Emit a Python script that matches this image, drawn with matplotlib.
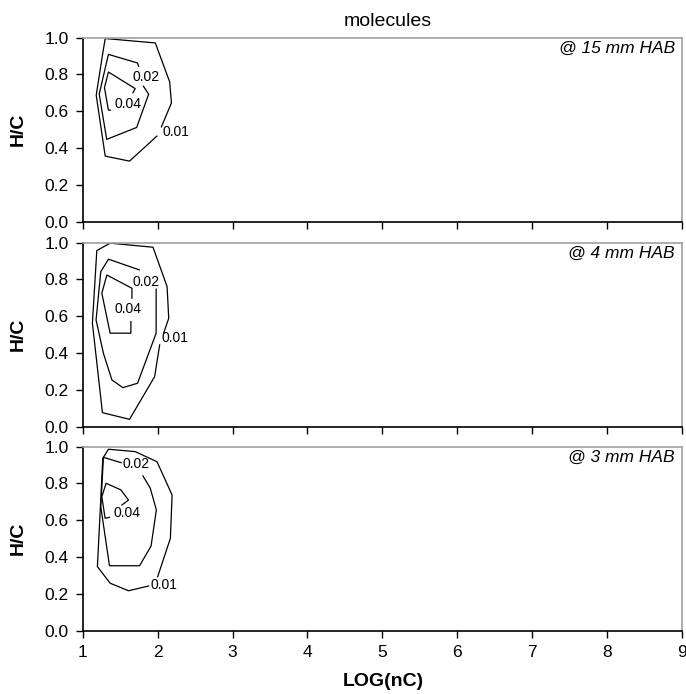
import matplotlib.pyplot as plt
import numpy as np

plt.rcParams["font.family"] = ["Liberation Sans", "DejaVu Sans"]

heights = ["@ 15 mm HAB", "@ 4 mm HAB", "@ 3 mm HAB"]
levels = ["0.01", "0.02", "0.04"]

# contour lines (LOG(nC), H/C), open where the level label sits
hab15_c01 = [(1.99, 0.465), (1.625, 0.329), (1.30, 0.356), (1.18, 0.687), (1.27, 0.922),
             (1.30, 0.995), (1.969, 0.971), (2.161, 0.759), (2.184, 0.645), (2.05, 0.515)]
hab15_c02 = [(1.745, 0.844), (1.732, 0.862), (1.343, 0.909), (1.22, 0.693), (1.32, 0.447),
             (1.72, 0.512), (1.88, 0.693), (1.81, 0.736)]
hab15_c04 = [(1.37, 0.606), (1.343, 0.606), (1.29, 0.728), (1.343, 0.813), (1.70, 0.723),
             (1.67, 0.70)]

hab4_c01 = [(2.027, 0.444), (1.96, 0.272), (1.625, 0.040), (1.263, 0.076), (1.129, 0.562),
            (1.188, 0.957), (1.366, 0.997), (1.938, 0.975), (2.126, 0.761), (2.148, 0.589),
            (2.08, 0.508)]
hab4_c02 = [(1.755, 0.852), (1.343, 0.910), (1.241, 0.842), (1.178, 0.580), (1.276, 0.399),
            (1.389, 0.254), (1.536, 0.212), (1.732, 0.236), (1.98, 0.508), (1.98, 0.747)]
hab4_c04 = [(1.657, 0.698), (1.657, 0.752), (1.322, 0.824), (1.255, 0.725), (1.366, 0.508),
            (1.643, 0.508), (1.643, 0.571)]

hab3_c01 = [(2.0, 0.293), (2.170, 0.502), (2.193, 0.737), (1.992, 0.918), (1.701, 0.973),
            (1.343, 0.986), (1.268, 0.937), (1.196, 0.348), (1.366, 0.258), (1.611, 0.217),
            (1.879, 0.243)]
hab3_c02 = [(1.804, 0.841), (1.902, 0.774), (1.983, 0.656), (1.912, 0.460), (1.759, 0.353),
            (1.357, 0.353), (1.241, 0.674), (1.276, 0.942), (1.513, 0.913)]
hab3_c04 = [(1.357, 0.616), (1.299, 0.611), (1.255, 0.728), (1.312, 0.801), (1.509, 0.765),
            (1.611, 0.710), (1.523, 0.683)]

# label anchor points (left edge x, centre y) for 0.01, 0.02, 0.04
hab15_labels = [(2.06, 0.488), (1.67, 0.786), (1.42, 0.642)]
hab4_labels = [(2.05, 0.482), (1.67, 0.788), (1.42, 0.640)]
hab3_labels = [(1.91, 0.248), (1.53, 0.906), (1.41, 0.641)]

panels = [
    ([hab15_c01, hab15_c02, hab15_c04], hab15_labels),
    ([hab4_c01, hab4_c02, hab4_c04], hab4_labels),
    ([hab3_c01, hab3_c02, hab3_c04], hab3_labels),
]

fig = plt.figure(figsize=(6.86, 6.94), dpi=100)
left, width = 0.1206, 0.8736
bottoms = [0.6806, 0.3852, 0.0912]
h = 0.2652

for i, (lines, labels) in enumerate(panels):
    ax = fig.add_axes([left, bottoms[i], width, h])
    for pts, lev, (lx, ly) in zip(lines, levels, labels):
        pts = np.array(pts)
        ax.plot(pts[:, 0], pts[:, 1], color="black", lw=0.9)
        ax.text(lx, ly, lev, fontsize=10, ha="left", va="center")

    ax.text(0.988, 0.94, heights[i], transform=ax.transAxes, fontsize=12.5,
            style="italic", ha="right", va="center")

    ax.set_xlim(1, 9)
    ax.set_ylim(0, 1)
    ax.set_xticks(range(1, 10))
    ax.set_yticks([0, 0.2, 0.4, 0.6, 0.8, 1.0])
    ax.set_yticklabels(["0.0", "0.2", "0.4", "0.6", "0.8", "1.0"])
    ax.tick_params(direction="out", length=5, width=1, labelsize=12.5, pad=5)
    ax.spines["left"].set_color("black")
    ax.spines["bottom"].set_color("black")
    ax.spines["top"].set_color("#a0a0a0")
    ax.spines["right"].set_color("#a0a0a0")
    for s in ax.spines.values():
        s.set_linewidth(1.2)
    ax.set_ylabel("H/C", fontsize=14, fontweight="bold")
    ax.yaxis.set_label_coords(-0.094, 0.5)
    if i < 2:
        ax.set_xticklabels([])

fig.text(383 / 686, 1 - 681 / 694, "LOG(nC)", fontsize=14, fontweight="bold",
         ha="center", va="center")
fig.text(388 / 686, 1 - 26 / 694, "molecules", fontsize=14, ha="center", va="baseline")

fig.savefig("out.png", dpi=100)
